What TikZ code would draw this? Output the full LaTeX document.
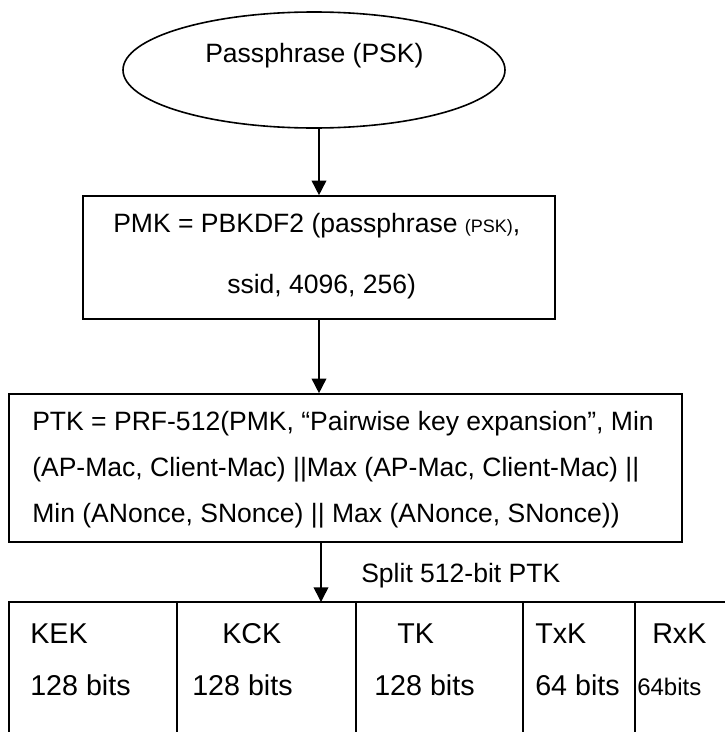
\documentclass[tikz,border=0pt]{standalone}
\usepackage{fontspec}
\setmainfont{Liberation Sans}
\usetikzlibrary{arrows.meta,shapes.geometric}
\begin{document}
\begin{tikzpicture}[x=0.75pt,y=-0.75pt,
  shapeline/.style={draw, line width=1.2pt, inner sep=0pt},
  txt/.style={inner sep=0pt, anchor=base west, font=\fontsize{19.9}{24}\selectfont},
  tbl/.style={inner sep=0pt, anchor=base west, font=\fontsize{21.5}{26}\selectfont},
  arr/.style={line width=1.2pt, -{Triangle[length=11pt,width=11pt]}},
  rulel/.style={line width=1.2pt}]
\useasboundingbox (0,0) rectangle (725,732);
% shapes
\node[shapeline, ellipse, minimum width=286.5pt, minimum height=87pt] (ell) at (314,70) {};
\node[shapeline, rectangle, minimum width=354pt, minimum height=92.25pt] (box2) at (319,257.5) {};
\node[shapeline, rectangle, minimum width=504.75pt, minimum height=111pt] (box3) at (345.5,468) {};
% texts
\node[txt] (t1) at (205,62) {Passphrase (PSK)};
\node[txt] (t2a) at (113,232) {PMK = PBKDF2 (passphrase {\fontsize{13.5}{16}\selectfont(PSK)},};
\node[txt] (t2b) at (227,293) {ssid, 4096, 256)};
\node[txt] (t3a) at (32,430) {PTK = PRF-512(PMK, “Pairwise key expansion”, Min};
\node[txt] (t3b) at (32,476) {(AP-Mac, Client-Mac) ||Max (AP-Mac, Client-Mac) ||};
\node[txt] (t3c) at (32,522) {Min (ANonce, SNonce) || Max (ANonce, SNonce))};
\node[txt] (split) at (361,582) {Split 512-bit PTK};
% table
\coordinate (ttop) at (321,602);
\draw[rulel] (9,732) -- (9,602) -- (725,602);
\foreach \xx in {177,356,523,635} \draw[rulel] (\xx,602) -- (\xx,732);
\node[tbl] (k1) at (30,643) {KEK};
\node[tbl] (k2) at (222,643) {KCK};
\node[tbl] (k3) at (397,643) {TK};
\node[tbl] (k4) at (535,643) {TxK};
\node[tbl] (k5) at (652,643) {RxK};
\node[tbl] (b1) at (30,695) {128 bits};
\node[tbl] (b2) at (192,695) {128 bits};
\node[tbl] (b3) at (374,695) {128 bits};
\node[tbl] (b4) at (535,695) {64 bits};
\node[tbl, font=\fontsize{18}{22}\selectfont] (b5) at (637,695) {64bits};
% arrows
\draw[arr] (box2.north |- ell.south) -- (box2.north);
\draw[arr] (box2.south) -- (box3.north -| box2.south);
\draw[arr] (box3.south -| ttop) -- (ttop);
\end{tikzpicture}
\end{document}
